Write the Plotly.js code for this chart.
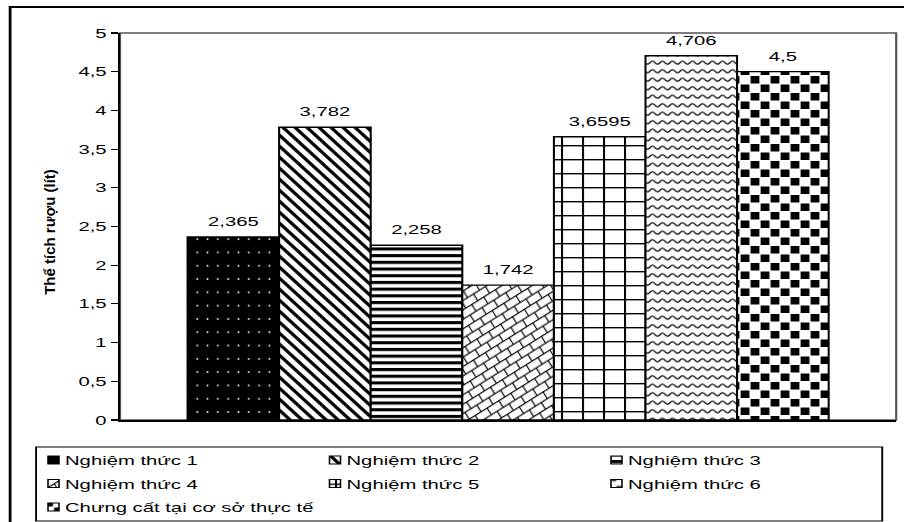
<!DOCTYPE html>
<html lang="vi">
<head>
<meta charset="utf-8">
<script src="https://cdn.plot.ly/plotly-3.0.1.min.js"></script>
<style>
  html, body { margin: 0; padding: 0; background: #fff; overflow: hidden; }
  /* The chart is laid out on a 580px wide canvas and widened to 904px,
     which gives the broad, stretched lettering of the original figure. */
  #chart { width: 580px; height: 522px; transform: scaleX(1.558621); transform-origin: 0 0; }
</style>
</head>
<body>
<!-- Hatch fills for the bars. Each pattern is drawn in on-screen pixels and
     narrowed by the inverse of the horizontal stretch so it ends up undistorted. -->
<svg width="0" height="0" style="position:absolute" aria-hidden="true">
  <defs>
    <pattern id="fill-dots" patternUnits="userSpaceOnUse" width="10.3" height="13.3" patternTransform="scale(0.641593,1)">
      <rect width="10.3" height="13.3" fill="#000"/>
      <circle cx="5.15" cy="6.65" r="0.95" fill="#fff"/>
    </pattern>
    <pattern id="fill-diag" patternUnits="userSpaceOnUse" width="12" height="11" patternTransform="scale(0.641593,1)">
      <rect width="12" height="11" fill="#fff"/>
      <path d="M-18,-5.5L6,16.5M-6,-5.5L18,16.5M6,-5.5L30,16.5" stroke="#000" stroke-width="3.2" fill="none"/>
    </pattern>
    <pattern id="fill-hlines" patternUnits="userSpaceOnUse" width="10" height="6.7" patternTransform="scale(0.641593,1)">
      <rect width="10" height="6.7" fill="#fff"/>
      <rect width="10" height="3.1" fill="#000"/>
    </pattern>
    <pattern id="fill-brick" patternUnits="userSpaceOnUse" width="28" height="16" patternTransform="scale(0.641593,1) rotate(-32)">
      <rect width="28" height="16" fill="#fff"/>
      <path d="M-1,0.5H29M-1,8.5H29M0.5,0.5V8.5M14.5,0.5V8.5M7.5,8.5V16.5M21.5,8.5V16.5" stroke="#000" stroke-width="1.2" fill="none"/>
    </pattern>
    <pattern id="fill-grid" patternUnits="userSpaceOnUse" width="21" height="14" patternTransform="scale(0.641593,1)">
      <rect width="21" height="14" fill="#fff"/>
      <rect x="0" y="0" width="2" height="14" fill="#000"/>
      <rect x="0" y="0" width="21" height="1.4" fill="#000"/>
    </pattern>
    <pattern id="fill-wave" patternUnits="userSpaceOnUse" width="10" height="8.5" patternTransform="scale(0.641593,1)">
      <rect width="10" height="8.5" fill="#fff"/>
      <path d="M-5,4.25Q-2.5,7.25 0,4.25Q2.5,1.25 5,4.25Q7.5,7.25 10,4.25Q12.5,1.25 15,4.25" stroke="#000" stroke-width="1.25" fill="none"/>
    </pattern>
    <pattern id="fill-checker" patternUnits="userSpaceOnUse" width="20" height="17" patternTransform="scale(0.641593,1)">
      <rect width="20" height="17" fill="#fff"/>
      <rect x="0.6" y="0.5" width="8.8" height="7.5" fill="#000"/>
      <rect x="10.6" y="9" width="8.8" height="7.5" fill="#000"/>
    </pattern>
  </defs>
</svg>
<div id="chart"></div>
<script>
// ---- data -------------------------------------------------------------
const seriesNames = [
  'Nghiệm thức 1',
  'Nghiệm thức 2',
  'Nghiệm thức 3',
  'Nghiệm thức 4',
  'Nghiệm thức 5',
  'Nghiệm thức 6',
  'Chưng cất tại cơ sở thực tế'
];
const volumes = [2.365, 3.782, 2.258, 1.742, 3.6595, 4.706, 4.5];
const category = ['Thể tích rượu'];
const yTickValues = [0, 0.5, 1, 1.5, 2, 2.5, 3, 3.5, 4, 4.5, 5];
const yTickLabels = ['0', '0,5', '1', '1,5', '2', '2,5', '3', '3,5', '4', '4,5', '5'];
const yTitle = 'Thể tích rượu (lít)';

// one hatch fill per series, in series order
const fillIds = ['fill-dots', 'fill-diag', 'fill-hlines', 'fill-brick', 'fill-grid', 'fill-wave', 'fill-checker'];

// ---- geometry of the widened canvas --------------------------------------
const STRETCH = 904 / 580;
const FONT = "'Liberation Sans', Arial, Helvetica, sans-serif";
const PLOT_TOP = 33, PLOT_BOTTOM = 420, PLOT_LEFT = 77, PLOT_W = 498.5;
const py = Y => (PLOT_BOTTOM - Y) / (PLOT_BOTTOM - PLOT_TOP);   // pixel row -> paper y
const px = X => (X / STRETCH - PLOT_LEFT) / PLOT_W;             // screen column -> paper x

const valueLabel = v => String(v).replace('.', ',');

const traces = seriesNames.map((name, i) => ({
  type: 'bar',
  name: name,
  x: category,
  y: [volumes[i]],
  text: [valueLabel(volumes[i])],
  textposition: 'outside',
  cliponaxis: false,
  textfont: { family: FONT, size: 13, color: '#000' },
  marker: { color: '#fff', line: { color: '#000', width: 1.3 } },
  hoverinfo: 'skip'
}));

const layout = {
  width: 580,
  height: 522,
  margin: { l: PLOT_LEFT, r: 580 - PLOT_LEFT - PLOT_W, t: PLOT_TOP, b: 522 - PLOT_BOTTOM, autoexpand: false },
  paper_bgcolor: '#fff',
  plot_bgcolor: '#fff',
  font: { family: FONT, size: 13, color: '#000' },
  separators: ',.',
  barmode: 'group',
  bargap: 0.174,
  bargroupgap: 0,
  showlegend: true,
  legend: {
    orientation: 'h',
    x: px(36), xanchor: 'left',
    y: py(447), yanchor: 'top',
    bgcolor: 'rgba(0,0,0,0)',
    borderwidth: 0,
    font: { family: FONT, size: 13, color: '#000' },
    entrywidth: 140.6,
    entrywidthmode: 'pixels',
    traceorder: 'normal'
  },
  xaxis: {
    type: 'category',
    showticklabels: false,
    ticks: '',
    showgrid: false,
    zeroline: false,
    showline: true,
    linecolor: '#000',
    linewidth: 1.8,
    automargin: false,
    fixedrange: true
  },
  yaxis: {
    range: [0, 5],
    tickvals: yTickValues,
    ticktext: yTickLabels,
    ticks: 'outside',
    ticklen: 4.5,
    tickwidth: 1.2,
    tickcolor: '#000',
    tickfont: { family: FONT, size: 13, color: '#000' },
    showline: true,
    linecolor: '#000',
    linewidth: 1.5,
    showgrid: false,
    zeroline: false,
    automargin: false,
    fixedrange: true,
    title: { text: yTitle, font: { family: FONT, size: 15, color: '#000', weight: 'bold' }, standoff: 8 }
  },
  shapes: [
    // outer frame of the figure
    { type: 'rect', xref: 'paper', yref: 'paper', x0: px(10), x1: 1.3, y0: -0.6, y1: py(7),
      line: { color: '#000', width: 1.8 }, layer: 'below' },
    // plot area border (grey top / right edges)
    { type: 'rect', xref: 'paper', yref: 'paper', x0: 0, x1: 1, y0: 0, y1: 1,
      line: { color: '#555', width: 1.4 }, layer: 'below' },
    // legend box
    { type: 'rect', xref: 'paper', yref: 'paper', x0: px(36), x1: px(883), y0: py(521), y1: py(447),
      line: { color: '#000', width: 1.2 }, layer: 'above' }
  ]
};

const gd = document.getElementById('chart');

function finishDrawing() {
  // hatch fills on the bars, value labels lifted slightly above the bar tops
  gd.querySelectorAll('.barlayer .trace').forEach((g, i) => {
    g.querySelectorAll('.point path').forEach(p => { p.style.fill = 'url(#' + fillIds[i] + ')'; });
    g.querySelectorAll('text.bartext').forEach(t => {
      t.setAttribute('transform', 'translate(0,-5) ' + (t.getAttribute('transform') || ''));
    });
  });

  // the rotated axis title keeps its natural proportions (undo the widening)
  const title = gd.querySelector('text.ytitle');
  if (title) {
    const ax = parseFloat(title.getAttribute('x')), ay = parseFloat(title.getAttribute('y'));
    const base = 'translate(' + ax + ',' + ay + ') scale(' + (1 / STRETCH) + ',1) translate(' + (-ax) + ',' + (-ay) + ') ' +
                 (title.getAttribute('transform') || '');
    title.setAttribute('transform', base);
    const r = title.getBoundingClientRect();
    const dx = (50 - (r.left + r.width / 2)) / STRETCH;
    const dy = 232 - (r.top + r.height / 2);
    title.setAttribute('transform', 'translate(' + dx + ',' + dy + ') ' + base);
  }

  // legend: three columns, rows 23.5px apart, small swatches next to the labels
  const lg = gd.querySelector('g.legend');
  if (!lg) return;
  lg.removeAttribute('clip-path');
  lg.querySelectorAll('[clip-path]').forEach(n => n.removeAttribute('clip-path'));
  const svg = lg.ownerSVGElement;
  lg.querySelectorAll('g.traces').forEach((item, i) => {
    const col = i % 3, row = Math.floor(i / 3);
    const label = item.querySelector('text.legendtext');
    const tx = label ? parseFloat(label.getAttribute('x')) || 40 : 40;
    const wantX = (65 + col * 281.5) / STRETCH - tx;
    const wantY = 460 + row * 23.5;
    const parentCTM = item.parentNode.getCTM();
    const pt = svg.createSVGPoint();
    pt.x = wantX; pt.y = wantY;
    const local = pt.matrixTransform(parentCTM.inverse());
    item.setAttribute('transform', 'translate(' + local.x + ',' + local.y + ')');
    const hw = 5.5 / STRETCH;
    item.querySelectorAll('.legendpoints path').forEach(p => {
      p.setAttribute('d', 'M' + hw + ',4H' + (-hw) + 'V-4H' + hw + 'Z');
      p.setAttribute('transform', 'translate(' + (tx - 11.5 / STRETCH) + ',0)');
      p.style.fill = 'url(#' + fillIds[i] + ')';
      p.style.stroke = '#000';
      p.style.strokeWidth = '1px';
    });
  });
}

Plotly.newPlot(gd, traces, layout, { staticPlot: true, displayModeBar: false }).then(finishDrawing);
</script>
</body>
</html>
